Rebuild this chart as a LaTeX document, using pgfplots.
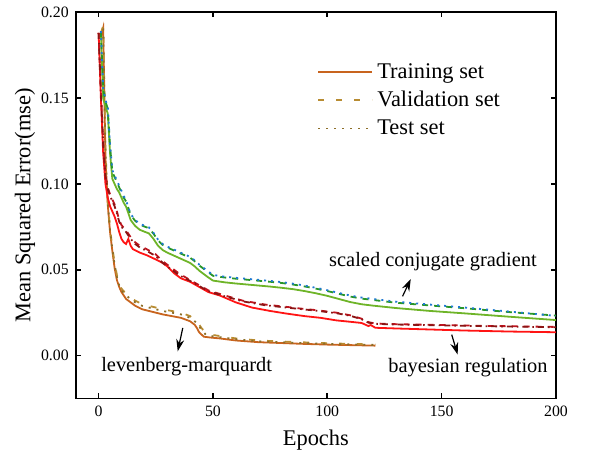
\documentclass[border=0pt]{standalone}
\usepackage{pgfplots}
\pgfplotsset{compat=1.18}
\usepackage{fontspec}
\setmainfont{Liberation Serif}
\usetikzlibrary{arrows.meta}

\definecolor{lmtrain}{RGB}{200,100,30}
\definecolor{lmval}{RGB}{184,140,50}
\definecolor{lmtest}{RGB}{140,110,40}
\definecolor{brtrain}{RGB}{255,20,20}
\definecolor{brval}{RGB}{190,20,30}
\definecolor{brtest}{RGB}{140,20,20}
\definecolor{scgtrain}{RGB}{110,180,40}
\definecolor{scgval}{RGB}{40,150,40}
\definecolor{scgtest}{RGB}{30,120,210}

\begin{document}
\begin{tikzpicture}
\begin{axis}[
  name=main,
  scale only axis,
  width=240pt, height=193pt,
  xmin=-10, xmax=200, ymin=-0.025, ymax=0.2,
  xtick={0,50,100,150,200},
  ytick={0,0.05,0.1,0.15,0.2},
  minor tick num=0,
  tick align=inside,
  major tick length=2.5pt,
  every tick/.style={black, line width=0.8pt},
  axis line style={line width=0.9pt},
  /pgf/number format/assume math mode=true,
  y tick label style={/pgf/number format/.cd, fixed, fixed zerofill, precision=2},
  tick label style={font=\fontsize{7.9}{9}\selectfont},
  label style={font=\fontsize{11.2}{13}\selectfont},
  xlabel={Epochs},
  ylabel={Mean Squared Error(mse)},
  ylabel shift=-4pt,
  legend style={draw=none, fill=none, at={(0.49,0.89)}, anchor=north west,
    font=\fontsize{11.2}{13}\selectfont, row sep=1pt},
  legend cell align=left,
  legend image code/.code={\draw[#1] (0pt,0pt) -- (27pt,0pt);},
  every axis plot/.append style={line width=0.9pt},
]

% levenberg-marquardt
\addplot[lmtrain, solid] coordinates {
(1,0.186) (2,0.191) (3,0.115) (4,0.088) (5,0.072) (6,0.061) (7,0.051) (8,0.044)
(9,0.040) (10,0.037) (12,0.033) (14,0.031) (16,0.029) (19,0.027) (22,0.026)
(25,0.025) (28,0.024) (32,0.023) (36,0.022) (38,0.021) (40,0.020) (42,0.018)
(43,0.016) (44,0.0135) (46,0.011) (49,0.0105) (53,0.0100) (60,0.0088) (70,0.0078)
(80,0.0073) (90,0.0068) (100,0.0064) (110,0.0061) (121,0.0058)};
\addlegendentry{Training set}
\addplot[lmval, dash pattern=on 3pt off 6pt] coordinates {
(1,0.188) (2,0.192) (3,0.120) (4,0.090) (5,0.074) (6,0.063) (7,0.054) (8,0.047)
(9,0.042) (10,0.039) (12,0.036) (14,0.034) (16,0.032) (19,0.030) (22,0.029)
(25,0.028) (28,0.027) (32,0.026) (36,0.025) (40,0.023) (43,0.020) (45,0.016)
(47,0.013) (50,0.012) (55,0.011) (60,0.0100) (70,0.0088) (80,0.0082) (90,0.0077)
(100,0.0072) (110,0.0068) (121,0.0065)};
\addlegendentry{Validation set}
\addplot[lmtest, dash pattern=on 1pt off 3pt] coordinates {
(1,0.187) (2,0.191) (3,0.118) (4,0.089) (5,0.073) (6,0.062) (7,0.053) (8,0.046)
(9,0.041) (10,0.038) (12,0.035) (14,0.033) (16,0.031) (19,0.029) (22,0.028)
(25,0.027) (28,0.026) (32,0.025) (36,0.024) (40,0.022) (43,0.019) (45,0.015)
(47,0.012) (50,0.0112) (55,0.0104) (60,0.0095) (70,0.0083) (80,0.0078) (90,0.0072)
(100,0.0068) (110,0.0065) (121,0.0062)};
\addlegendentry{Test set}

% bayesian regulation
\addplot[brtrain, solid, forget plot] coordinates {
(0,0.188) (1,0.150) (2,0.118) (3,0.100) (4,0.092) (5,0.087) (6,0.084) (7,0.081)
(8,0.077) (9,0.072) (10,0.068) (11,0.066) (12,0.065) (13,0.068) (14,0.064)
(15,0.062) (18,0.060) (21,0.0585) (25,0.056) (28,0.054) (30,0.052) (33,0.048)
(36,0.045) (40,0.043) (44,0.040) (48,0.037) (53,0.035) (60,0.031) (67,0.028)
(75,0.026) (82,0.0245) (90,0.023) (97,0.022) (104,0.0205) (110,0.0197) (115,0.019)
(118,0.0172) (119,0.0178) (121,0.0162) (130,0.0158) (140,0.0154) (150,0.0150)
(160,0.0146) (170,0.0143) (180,0.0140) (190,0.0138) (200,0.0136)};
\addplot[brval, dash pattern=on 3pt off 3pt, forget plot] coordinates {
(0,0.188) (1,0.155) (2,0.125) (3,0.105) (4,0.098) (5,0.094) (6,0.091) (7,0.088)
(8,0.084) (9,0.079) (10,0.076) (12,0.073) (14,0.069) (16,0.066) (18,0.064)
(21,0.062) (25,0.059) (28,0.055) (31,0.052) (35,0.048) (40,0.044) (44,0.041)
(48,0.038) (54,0.0355) (63,0.032) (73,0.0297) (82,0.0284) (89,0.0273) (95,0.0265)
(104,0.0250) (110,0.0235) (115,0.0215) (118,0.0195) (121,0.0187) (130,0.0183)
(150,0.0178) (170,0.0173) (200,0.0167)};
\addplot[brtest, dash pattern=on 3pt off 2pt on 0.8pt off 2pt, forget plot] coordinates {
(0,0.188) (1,0.153) (2,0.123) (3,0.104) (4,0.097) (5,0.093) (6,0.090) (7,0.087)
(8,0.083) (9,0.078) (10,0.075) (12,0.072) (14,0.068) (16,0.065) (18,0.063)
(21,0.061) (25,0.058) (28,0.054) (31,0.051) (35,0.047) (40,0.0435) (44,0.0405)
(48,0.0375) (54,0.0350) (63,0.0316) (73,0.0293) (82,0.0280) (89,0.0270) (95,0.0262)
(104,0.0247) (110,0.0232) (115,0.0212) (118,0.0192) (121,0.0185) (130,0.0181)
(150,0.0176) (170,0.0171) (200,0.0165)};

% scaled conjugate gradient
\addplot[scgtrain, solid, forget plot] coordinates {
(1,0.188) (2,0.150) (3,0.145) (4,0.141) (5,0.118) (6,0.103) (7,0.100) (8,0.097)
(9,0.095) (10,0.092) (11,0.089) (12,0.0868) (13,0.083) (14,0.079) (16,0.0755)
(18,0.0733) (20,0.0722) (22,0.0712) (24,0.0680) (26,0.0640) (28,0.0615) (30,0.0600)
(32,0.0588) (35,0.0570) (38,0.0552) (40,0.0540) (42,0.0520) (44,0.0495) (46,0.0475)
(48,0.0455) (50,0.0437) (55,0.0427) (60,0.0420) (65,0.0414) (70,0.0408) (75,0.0402)
(80,0.0395) (85,0.0387) (90,0.0376) (95,0.0363) (100,0.0348) (105,0.0330)
(110,0.0312) (115,0.0299) (120,0.0291) (130,0.0277) (145,0.0260) (160,0.0246)
(180,0.0226) (200,0.0207)};
\addplot[scgval, dash pattern=on 3pt off 3pt, forget plot] coordinates {
(1,0.189) (2,0.155) (3,0.148) (4,0.144) (5,0.122) (6,0.107) (7,0.104) (8,0.101)
(9,0.098) (10,0.095) (11,0.092) (12,0.0898) (13,0.086) (14,0.082) (16,0.0785)
(18,0.0763) (20,0.0752) (22,0.0742) (24,0.0710) (26,0.0670) (28,0.0645) (30,0.0630)
(32,0.0618) (35,0.0600) (38,0.0582) (40,0.0570) (42,0.0550) (44,0.0525) (46,0.0505)
(48,0.0485) (50,0.0465) (55,0.0455) (60,0.0448) (65,0.0442) (70,0.0436) (75,0.0430)
(80,0.0423) (85,0.0414) (90,0.0403) (95,0.0390) (100,0.0376) (105,0.0360)
(110,0.0344) (115,0.0332) (120,0.0324) (130,0.0308) (145,0.0292) (160,0.0276)
(180,0.0253) (200,0.0233)};
\addplot[scgtest, dash pattern=on 1pt off 2.5pt, forget plot] coordinates {
(1,0.189) (2,0.156) (3,0.149) (4,0.145) (5,0.123) (6,0.108) (7,0.105) (8,0.102)
(9,0.099) (10,0.096) (11,0.093) (12,0.0903) (13,0.0865) (14,0.0825) (16,0.0790)
(18,0.0768) (20,0.0757) (22,0.0747) (24,0.0715) (26,0.0675) (28,0.0650) (30,0.0635)
(32,0.0623) (35,0.0605) (38,0.0587) (40,0.0575) (42,0.0555) (44,0.0530) (46,0.0510)
(48,0.0490) (50,0.0470) (55,0.0460) (60,0.0453) (65,0.0447) (70,0.0441) (75,0.0435)
(80,0.0428) (85,0.0419) (90,0.0408) (95,0.0395) (100,0.0381) (105,0.0365)
(110,0.0350) (115,0.0338) (120,0.0330) (130,0.0314) (145,0.0297) (160,0.0280)
(180,0.0256) (200,0.0231)};

% annotations
\node[font=\fontsize{10.2}{12}\selectfont] at (axis cs:146.2,0.0547) {scaled conjugate gradient};
\draw[-{Stealth[length=6pt,width=4pt]}, line width=0.6pt] (axis cs:132.9,0.0345) -- (axis cs:136.5,0.0446);
\node[font=\fontsize{10.2}{12}\selectfont] at (axis cs:38.5,-0.0062) {levenberg-marquardt};
\draw[-{Stealth[length=6pt,width=4pt]}, line width=0.6pt] (axis cs:36.8,0.0161) -- (axis cs:34.6,0.0025);
\node[font=\fontsize{10.2}{12}\selectfont] at (axis cs:161.5,-0.0070) {bayesian regulation};
\draw[-{Stealth[length=6pt,width=4pt]}, line width=0.6pt] (axis cs:154.4,0.0122) -- (axis cs:157,0.0006);
\end{axis}
\path ([shift={(-37.85pt,-27.35pt)}]main.south west) rectangle ([shift={(16.5pt,6.15pt)}]main.north east);
\end{tikzpicture}
\end{document}
